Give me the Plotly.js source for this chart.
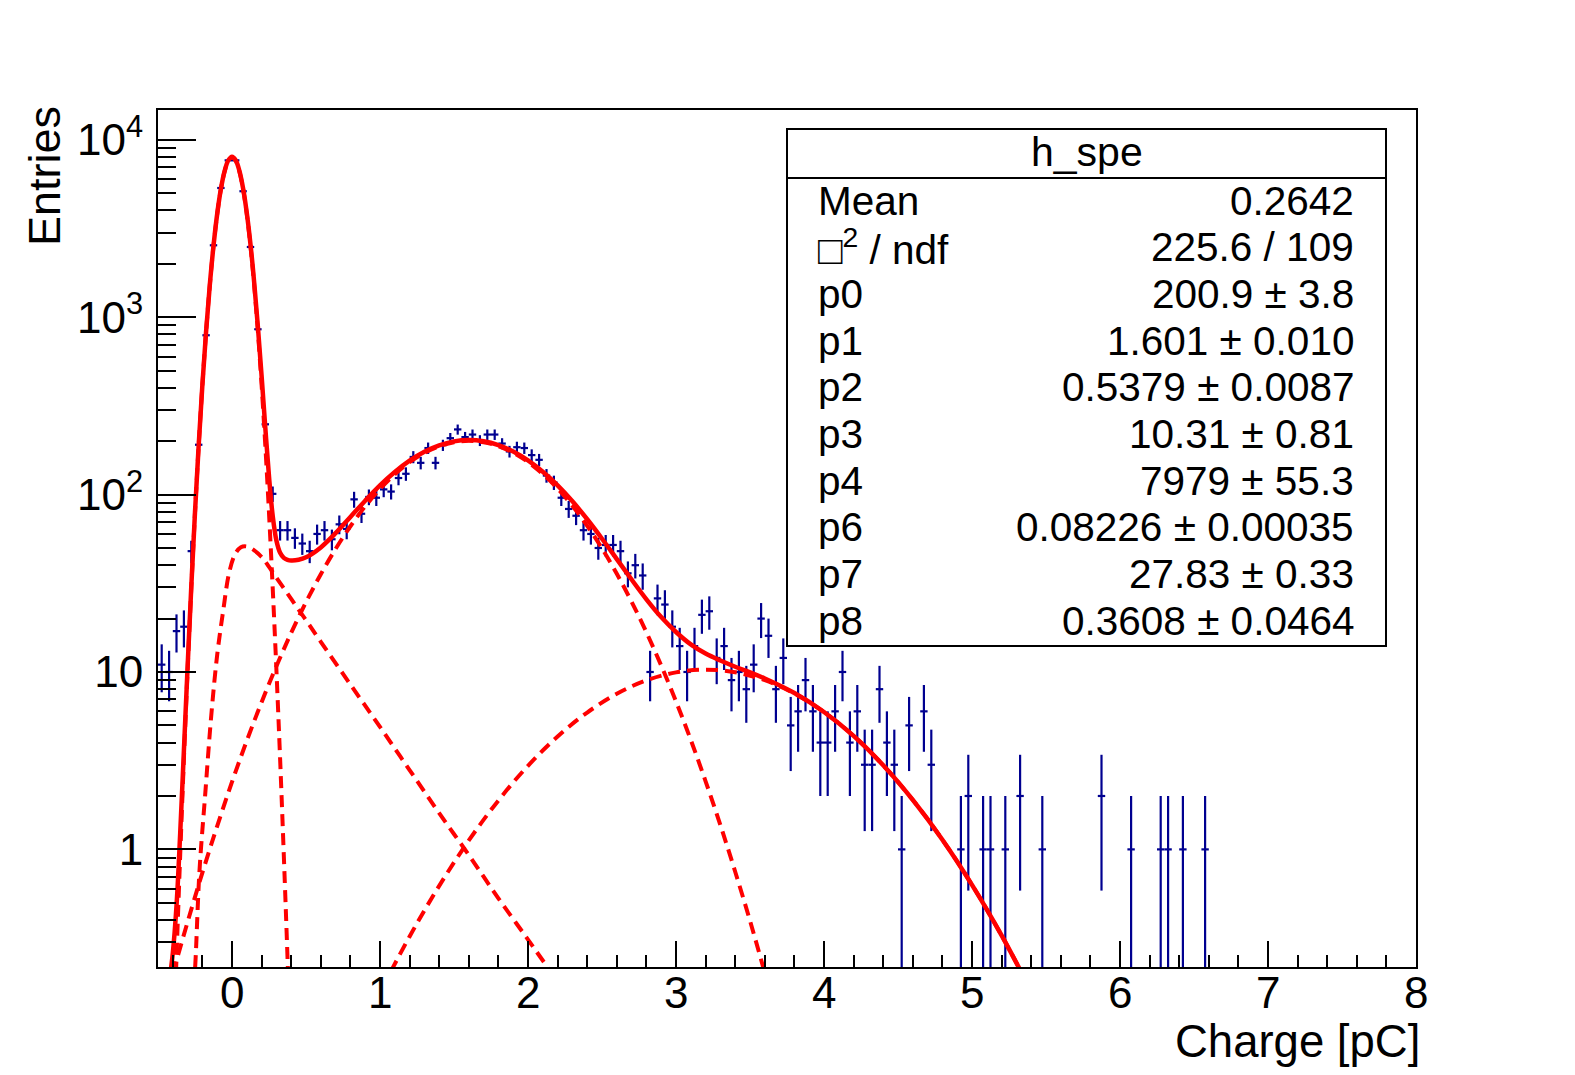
<!DOCTYPE html>
<html><head><meta charset="utf-8">
<script src="https://cdn.plot.ly/plotly-3.0.1.min.js"></script>
<style>html,body{margin:0;padding:0;background:#fff}#chart{width:1575px;height:1075px}</style>
</head><body><div id="chart"></div>
<script>
// ---------- histogram h_spe (bin width 0.05, non-empty bins only) ----------
const binCenters = [-0.475,-0.425,-0.375,-0.325,-0.275,-0.225,-0.175,-0.125,-0.075,-0.025,
0.025,0.075,0.125,0.175,0.225,0.275,0.325,0.375,0.425,0.475,
0.525,0.575,0.625,0.675,0.725,0.775,0.825,0.875,0.925,0.975,
1.025,1.075,1.125,1.175,1.225,1.275,1.325,1.375,1.425,1.475,
1.525,1.575,1.625,1.675,1.725,1.775,1.825,1.875,1.925,1.975,
2.025,2.075,2.125,2.175,2.225,2.275,2.325,2.375,2.425,2.475,
2.525,2.575,2.625,2.675,2.725,2.775,2.825,2.875,2.925,2.975,
3.025,3.075,3.125,3.175,3.225,3.275,3.325,3.375,3.425,3.475,
3.525,3.575,3.625,3.675,3.725,3.775,3.825,3.875,3.925,3.975,
4.025,4.075,4.125,4.175,4.225,4.275,4.325,4.375,4.425,4.475,
4.525,4.575,4.675,4.725,4.925,4.975,5.075,5.125,5.225,5.325,
5.475,5.875,6.075,6.275,6.325,6.425,6.575];
const binCounts = [11,10,17,18,48,191,791,2543,5350,7660,
7660,5130,2488,855,249,101,63,63,57,53,
48,60,63,56,68,64,94,78,97,96,
107,104,124,131,163,151,183,151,190,208,
233,211,218,202,218,218,194,175,185,183,
167,157,128,117,96,83,76,63,60,50,
52,52,48,36,40,35,10,26,24,18,
14,10,14,21,22,12,14,9,10,8,
11,20,16,8,12,5,6,9,6,4,
4,6,10,4,6,3,3,8,4,3,
1,5,6,3,1,2,1,1,1,2,
1,2,1,1,1,1,1];
const binHalfWidth = 0.025;

// ---------- fit curves ----------
const totalX = [-0.42,-0.40,-0.375,-0.35,-0.325,-0.3,-0.275,-0.25,-0.225,-0.2,-0.175,-0.15,-0.125,-0.1,-0.075,-0.05,-0.025,0,
0.025,0.05,0.075,0.1,0.125,0.15,0.175,0.2,0.225,0.25,0.275,0.3,0.325,0.35,0.375,0.4,0.45,0.5,0.6,0.7,0.8,0.9,
1.0,1.1,1.2,1.3,1.4,1.5,1.6,1.7,1.8,1.9,2.0,2.1,2.2,2.3,2.4,2.5,2.6,2.7,2.8,2.9,
3.0,3.1,3.2,3.3,3.4,3.5,3.6,3.8,4.0,4.2,4.4,4.6,4.8,5.0,5.2,5.4];
const totalY = [0.19,0.26,0.48,1.23,3.6,10.7,30.4,79.6,190.7,417,832.8,1519,2524,3825,5285,6657,7652,8020,
7665,6684,5320,3866,2570,1567,882,466,238.5,126.4,75.9,55.1,47,44.0,42.9,42.5,42.9,44.3,50.4,60.6,74.8,92.4,
112.7,134.1,155.3,174.4,189.6,199.5,203,199.7,190,175,155.9,134.4,112.6,91.6,72.6,56.4,43.3,33.2,25.7,20.4,
16.8,14.3,12.7,11.6,10.7,9.96,9.19,7.61,5.95,4.36,2.98,1.90,1.134,0.631,0.3275,0.1587];

const pedX = [-0.4,-0.375,-0.35,-0.325,-0.3,-0.275,-0.25,-0.225,-0.2,-0.175,-0.15,-0.125,-0.1,-0.075,-0.05,-0.025,0,
0.025,0.05,0.075,0.1,0.125,0.15,0.175,0.2,0.225,0.25,0.275,0.3,0.325,0.35,0.375,0.4];
const pedY = [0.058,0.246,0.93,3.25,10.3,29.8,78.8,189.4,415,829.6,1513,2515,3811,5266,6633,7619,7979,
7619,6633,5266,3811,2515,1513,829.6,415,189.4,78.8,29.8,10.3,3.25,0.93,0.246,0.058];

const speX = [-0.5,-0.4,-0.3,-0.2,-0.1,0,0.1,0.2,0.3,0.4,0.5,0.6,0.7,0.8,0.9,1.0,1.1,1.2,1.3,1.4,1.5,1.6,
1.7,1.8,1.9,2.0,2.1,2.2,2.3,2.4,2.5,2.6,2.7,2.8,2.9,3.0,3.1,3.2,3.3,3.4,3.5,3.6,3.7];
const speY = [0.098,0.199,0.39,0.739,1.354,2.40,4.10,6.76,10.78,16.62,24.74,35.56,49.4,66.3,85.9,107.6,130.2,152.2,171.8,187.4,197.4,200.9,
197.5,187.6,172.2,152.6,130.6,108.1,86.4,66.7,49.7,35.8,24.9,16.75,10.88,6.83,4.14,2.42,1.37,0.748,0.396,0.201,0.099];

const twoPeX = [0.9,1.0,1.2,1.4,1.6,1.8,2.0,2.2,2.4,2.6,2.8,3.0,3.2,3.4,3.6,3.8,4.0,4.2,4.4,4.6,4.8,5.0,5.2,5.4];
const twoPeY = [0.106,0.156,0.323,0.623,1.123,1.887,2.96,4.33,5.91,7.54,8.97,9.95,10.31,9.97,8.99,7.57,5.95,4.36,2.98,1.90,1.134,0.631,0.3275,0.1587];

const expX = [-0.26,-0.25,-0.22,-0.18,-0.14,-0.10,-0.06,-0.02,0.02,0.06,0.1,0.15,0.2,0.3,0.4,0.5,0.6,0.8,1.0,1.2,1.4,1.6,1.8,2.0,2.2];
const expY = [0.17,0.21,0.75,2.1,5.7,12.5,22,36,46,50.5,51,48.5,44.5,34,25.8,19.6,14.8,8.5,4.9,2.8,1.6,0.93,0.53,0.31,0.18];

// ---------- axis ticks / texts ----------
const xTickVals = [0,1,2,3,4,5,6,7,8];
const xTickText = ['0','1','2','3','4','5','6','7','8'];
const yTickVals = [1,10,100,1000,10000];
const yTickText = ['1','10','10<sup>2</sup>','10<sup>3</sup>','10<sup>4</sup>'];
const yMinorVals = [0.3,0.4,0.5,0.6,0.7,0.8,0.9,2,3,4,5,6,7,8,9,20,30,40,50,60,70,80,90,
200,300,400,500,600,700,800,900,2000,3000,4000,5000,6000,7000,8000,9000];
const statTitle = 'h_spe';
const statLabels = ['Mean','\u25A1<sup>2</sup> / ndf','p0','p1','p2','p3','p4','p6','p7','p8'];
const statValues = ['0.2642','225.6 / 109','200.9 \u00B1 3.8','1.601 \u00B1 0.010','0.5379 \u00B1 0.0087',
'10.31 \u00B1 0.81','7979 \u00B1 55.3','0.08226 \u00B1 0.00035','27.83 \u00B1 0.33','0.3608 \u00B1 0.0464'];
const xTitle = 'Charge [pC]';
const yTitle = 'Entries';

// ---------- drawing ----------
const FONT = 'Liberation Sans, Arial, Helvetica, sans-serif';
const L = 158, R = 1416, T = 110, B = 967, W = 1575, H = 1075;
const fx = px => (px - L) / (R - L);
const fy = py => (B - py) / (B - T);

const errUp = binCounts.map(n => Math.sqrt(n));
const errDn = binCounts.map(n => n > 1 ? Math.sqrt(n) : n * 0.999);

const navy = '#000090';
const red = '#ff0000';
const dash = '12px,7px';

const traces = [
  {x: binCenters, y: binCounts, type: 'scatter', mode: 'markers',
   marker: {size: 2, color: 'rgba(0,0,0,0)'},
   error_y: {type: 'data', symmetric: false, array: errUp, arrayminus: errDn, color: navy, thickness: 2.2, width: 0},
   error_x: {type: 'constant', value: binHalfWidth, color: navy, thickness: 2.2, width: 0},
   hoverinfo: 'skip', showlegend: false},
  {x: pedX, y: pedY, type: 'scatter', mode: 'lines', line: {color: red, width: 4, dash: dash, shape: 'spline'}, showlegend: false},
  {x: expX, y: expY, type: 'scatter', mode: 'lines', line: {color: red, width: 4, dash: dash, shape: 'spline'}, showlegend: false},
  {x: speX, y: speY, type: 'scatter', mode: 'lines', line: {color: red, width: 4, dash: dash, shape: 'spline'}, showlegend: false},
  {x: twoPeX, y: twoPeY, type: 'scatter', mode: 'lines', line: {color: red, width: 4, dash: dash, shape: 'spline'}, showlegend: false},
  {x: totalX, y: totalY, type: 'scatter', mode: 'lines', line: {color: red, width: 4.5, shape: 'spline'}, showlegend: false}
];

const boxL = 787, boxR = 1386, boxT = 129, boxB = 646, boxLine = 178;
const shapes = [
  {type: 'rect', xref: 'paper', yref: 'paper', x0: fx(boxL), x1: fx(boxR), y0: fy(boxB), y1: fy(boxT),
   fillcolor: '#ffffff', line: {color: '#000', width: 2}, layer: 'above'},
  {type: 'line', xref: 'paper', yref: 'paper', x0: fx(boxL), x1: fx(boxR), y0: fy(boxLine), y1: fy(boxLine),
   line: {color: '#000', width: 2}, layer: 'above'}
];

const annotations = [];
annotations.push({xref: 'paper', yref: 'paper', x: fx((boxL + boxR) / 2), y: fy(152.5), text: statTitle,
  showarrow: false, xanchor: 'center', yanchor: 'middle', font: {family: FONT, size: 41, color: '#000'}});
const rowY0 = 200.5, rowStep = 46.7;
statLabels.forEach((t, i) => {
  annotations.push({xref: 'paper', yref: 'paper', x: fx(816), y: fy(rowY0 + i * rowStep), text: t,
    showarrow: false, xanchor: 'left', yanchor: 'middle', font: {family: FONT, size: 40.5, color: '#000'}});
  annotations.push({xref: 'paper', yref: 'paper', x: fx(1356), y: fy(rowY0 + i * rowStep), text: statValues[i],
    showarrow: false, xanchor: 'right', yanchor: 'middle', font: {family: FONT, size: 40.5, color: '#000'}});
});
xTickVals.forEach((v, i) => {
  annotations.push({xref: 'x', yref: 'paper', x: v, y: fy(993), text: xTickText[i], showarrow: false,
    xanchor: 'center', yanchor: 'middle', font: {family: FONT, size: 44, color: '#000'}});
});
annotations.push({xref: 'paper', yref: 'paper', x: fx(1422), y: fy(1041), text: xTitle, showarrow: false,
  xanchor: 'right', yanchor: 'middle', font: {family: FONT, size: 45.5, color: '#000'}});
annotations.push({xref: 'paper', yref: 'paper', x: fx(45), y: fy(104), text: yTitle, showarrow: false, textangle: -90,
  xanchor: 'center', yanchor: 'top', font: {family: FONT, size: 45, color: '#000'}});

const layout = {
  width: W, height: H,
  margin: {l: L, r: W - R, t: T, b: H - B, pad: 0},
  paper_bgcolor: '#fff', plot_bgcolor: '#fff',
  showlegend: false,
  font: {family: FONT, color: '#000'},
  xaxis: {
    range: [-0.5, 8], showgrid: false, zeroline: false,
    showline: true, linecolor: '#000', linewidth: 2, mirror: true,
    ticks: 'inside', ticklen: 26, tickwidth: 2, tickcolor: '#000',
    tickmode: 'array', tickvals: xTickVals, showticklabels: false,
    minor: {ticks: 'inside', ticklen: 12, tickwidth: 2, tickcolor: '#000', tickmode: 'linear', tick0: 0, dtick: 0.2, showgrid: false}
  },
  yaxis: {
    type: 'log', range: [-0.663, 4.168], showgrid: false, zeroline: false,
    showline: true, linecolor: '#000', linewidth: 2, mirror: true,
    ticks: 'inside', ticklen: 38, tickwidth: 2, tickcolor: '#000',
    tickmode: 'array', tickvals: yTickVals, ticktext: yTickText,
    tickfont: {family: FONT, size: 44, color: '#000'},
    ticklabelstandoff: 4,
    minor: {ticks: 'inside', ticklen: 18, tickwidth: 2, tickcolor: '#000', tickmode: 'array', tickvals: yMinorVals, showgrid: false}
  },
  shapes: shapes,
  annotations: annotations
};

Plotly.newPlot('chart', traces, layout, {displayModeBar: false, staticPlot: true});
</script>
</body></html>
